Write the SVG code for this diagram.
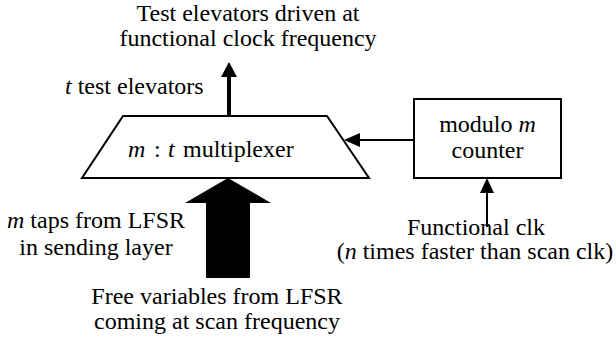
<svg xmlns="http://www.w3.org/2000/svg" width="616" height="343" viewBox="0 0 616 343">
<style>
text{font-size:24px;fill:#000}
.c{text-anchor:middle}
.i{font-style:italic}
.shape{fill:#fff;stroke:#000;stroke-width:2}
.ln{stroke:#000;fill:none}
</style>
<rect width="616" height="343" fill="#fff"/>
<g id="connectors">
<line class="ln" x1="229" y1="116" x2="229" y2="75" stroke-width="4"/>
<polygon points="229,62 221,77 237,77"/>
<line class="ln" x1="414" y1="140" x2="358" y2="140" stroke-width="2"/>
<polygon points="344,140 360,133 360,147"/>
<line class="ln" x1="487" y1="227" x2="487" y2="191" stroke-width="2"/>
<polygon points="487,178 480,193 494,193"/>
<polygon points="228,178 185,203 206,203 206,278 250,278 250,203 271,203"/>
</g>
<g font-family="Liberation Serif, Times New Roman, serif">
<g id="mux">
<polygon class="shape" points="123,116 327,116 369,178 82,178"/>
<text y="157" font-size="26"><tspan class="i" x="128">m</tspan><tspan x="154">:</tspan><tspan class="i" x="168">t</tspan><tspan x="183">multiplexer</tspan></text>
</g>
<g id="counter">
<rect class="shape" x="414" y="99" width="147" height="79"/>
<text class="c" x="487.5" y="132">modulo <tspan class="i">m</tspan></text>
<text class="c" x="487.5" y="158">counter</text>
</g>
<g id="labels">
<text class="c" x="248" y="21">Test elevators driven at</text>
<text class="c" x="248" y="46">functional clock frequency</text>
<text x="65" y="94"><tspan class="i">t</tspan> test elevators</text>
<text class="c" x="96" y="228"><tspan class="i">m</tspan> taps from LFSR</text>
<text class="c" x="96" y="255">in sending layer</text>
<text class="c" x="476" y="235">Functional clk</text>
<text class="c" x="475" y="259">(<tspan class="i">n</tspan> times faster than scan clk)</text>
<text class="c" x="217" y="304">Free variables from LFSR</text>
<text class="c" x="217" y="329">coming at scan frequency</text>
</g>
</g>
</svg>
